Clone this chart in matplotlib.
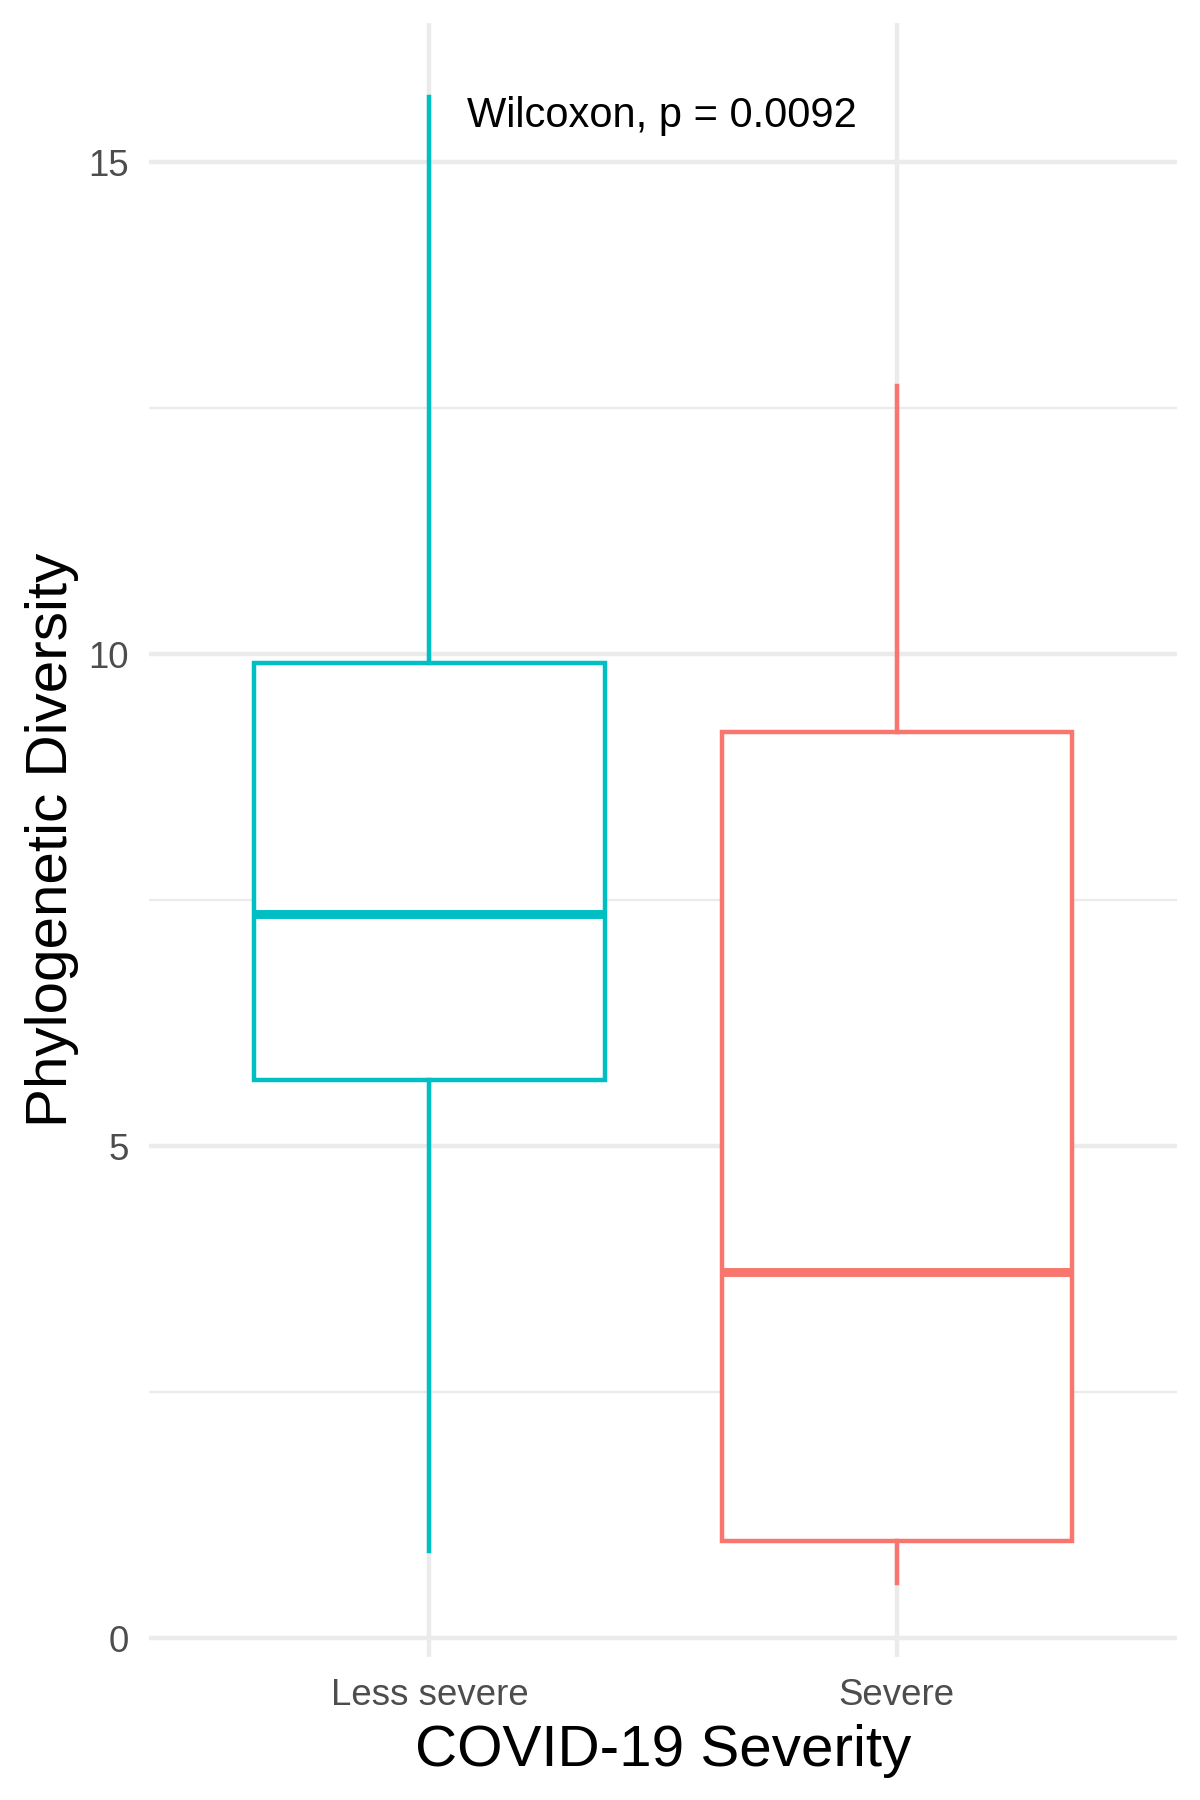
import matplotlib
matplotlib.use("Agg")
import matplotlib.pyplot as plt

plt.rcParams['font.family'] = ['Liberation Sans', 'DejaVu Sans']

categories = ["Less severe", "Severe"]
colors = ["#00BFC4", "#F8766D"]
whislo = [0.89, 0.56]
q1 = [5.67, 0.99]
med = [7.36, 3.72]
q3 = [9.91, 9.21]
whishi = [15.66, 12.73]
yticks = [0, 5, 10, 15]
minor_yticks = [2.5, 7.5, 12.5]
annot = "Wilcoxon, p = 0.0092"

fig = plt.figure(figsize=(4, 6), dpi=300)
ax = fig.add_axes([0.1242, 0.0794, 0.981 - 0.1242, 0.987 - 0.0794])

grid_c = "#EBEBEB"
for y in yticks:
    ax.axhline(y, color=grid_c, lw=1.07, zorder=0)
for y in minor_yticks:
    ax.axhline(y, color=grid_c, lw=0.53, zorder=0)
positions = list(range(1, len(categories) + 1))
for p in positions:
    ax.axvline(p, color=grid_c, lw=1.07, zorder=0)

for i, cat in enumerate(categories):
    st = [dict(med=med[i], q1=q1[i], q3=q3[i], whislo=whislo[i], whishi=whishi[i], label=cat)]
    c = colors[i]
    ax.bxp(st, positions=[positions[i]], widths=0.75, showfliers=False, showcaps=False,
           patch_artist=True,
           boxprops=dict(facecolor="white", edgecolor=c, linewidth=1.07),
           whiskerprops=dict(color=c, linewidth=1.07),
           medianprops=dict(color=c, linewidth=2.14, solid_capstyle="butt"),
           manage_ticks=False, zorder=2)

ax.text(1.08, 15.36, annot, ha="left", va="baseline", fontsize=10, color="black")

ax.set_xlim(0.4, 2.6)
ax.set_ylim(-0.19, 16.41)
ax.set_xticks(positions)
ax.set_xticklabels(categories)
ax.set_yticks(yticks)
ax.set_yticklabels([str(v) for v in yticks])
ax.tick_params(axis="both", length=0, labelsize=8.8, labelcolor="#4D4D4D")
ax.tick_params(axis="y", pad=4.8)
ax.tick_params(axis="x", pad=5)
for s in ax.spines.values():
    s.set_visible(False)

ax.set_xlabel("COVID-19 Severity", fontsize=14, color="black", labelpad=2.6)
ax.set_ylabel("Phylogenetic Diversity", fontsize=14, color="black", labelpad=2.3)

fig.savefig("out.png", dpi=300, facecolor="white")
